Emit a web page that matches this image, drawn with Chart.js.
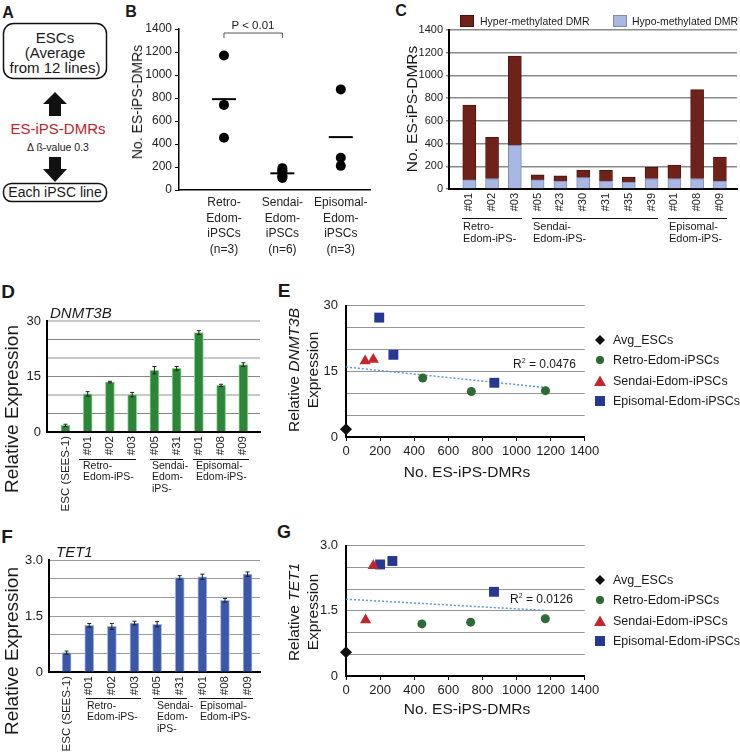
<!DOCTYPE html>
<html><head><meta charset="utf-8">
<script src="https://cdn.jsdelivr.net/npm/chart.js@4.4.1/dist/chart.umd.min.js"></script>
<style>
body{margin:0;width:740px;height:754px;position:relative;background:#fff;overflow:hidden;font-family:'Liberation Sans',Arial,Helvetica,sans-serif;color:#1a1a1a}
.cv{position:absolute}
.t{position:absolute;white-space:nowrap;line-height:1}
.c{position:absolute;white-space:nowrap;line-height:1;transform:translate(-50%,-50%)}
.r{position:absolute;white-space:nowrap;text-align:center;transform:translate(-50%,-50%) rotate(-90deg)}
.L{position:absolute;font-weight:bold;line-height:1;transform:translate(-50%,-50%)}
.g{position:absolute;height:0;border-top:1.5px solid #111}
.gl{position:absolute;white-space:nowrap}
.lg{position:absolute;white-space:nowrap;font-size:12.5px;line-height:1;transform:translateY(-50%)}
.lm{position:absolute;transform:translate(-50%,-50%)}
</style></head>
<body>
<!-- Panel A -->
<svg class="cv" style="left:0;top:0" width="120" height="210">
  <rect x="3.5" y="23.5" width="103" height="55" rx="10" ry="10" fill="none" stroke="#111" stroke-width="1.5"/>
  <polygon points="55,92 67,104 61,104 61,116 49,116 49,104 43,104" fill="#111"/>
  <polygon points="49,157 61,157 61,169 67,169 55,182 43,169 49,169" fill="#111"/>
  <rect x="3.5" y="183.5" width="103" height="18" rx="8" ry="8" fill="none" stroke="#111" stroke-width="1.5"/>
</svg>
<div class="L" style="left:8px;top:13px;font-size:16px">A</div>
<div class="c" style="left:55px;top:37px;font-size:15px">ESCs</div>
<div class="c" style="left:55px;top:52px;font-size:15px">(Average</div>
<div class="c" style="left:55px;top:67px;font-size:15px">from 12 lines)</div>
<div class="c" style="left:58px;top:128px;font-size:15px;color:#c1222b">ES-iPS-DMRs</div>
<div class="c" style="left:58px;top:147px;font-size:10.5px">Δ ß-value 0.3</div>
<div class="c" style="left:55px;top:192px;font-size:14px">Each iPSC line</div>

<!-- Panel letters -->
<div class="L" style="left:131px;top:12px;font-size:16px">B</div>
<div class="L" style="left:401px;top:11px;font-size:16px">C</div>
<div class="L" style="left:8px;top:291px;font-size:19px">D</div>
<div class="L" style="left:284px;top:290px;font-size:19px">E</div>
<div class="L" style="left:7px;top:536px;font-size:19px">F</div>
<div class="L" style="left:284px;top:532px;font-size:18px">G</div>

<!-- Canvases -->
<div class="cv" style="left:120px;top:0"><canvas id="cB" width="260" height="270"></canvas></div>
<div class="cv" style="left:380px;top:0"><canvas id="cC" width="360" height="270"></canvas></div>
<div class="cv" style="left:0;top:300px"><canvas id="cD" width="270" height="230"></canvas></div>
<div class="cv" style="left:280px;top:290px"><canvas id="cE" width="330" height="200"></canvas></div>
<div class="cv" style="left:0;top:540px"><canvas id="cF" width="270" height="214"></canvas></div>
<div class="cv" style="left:280px;top:530px"><canvas id="cG" width="330" height="200"></canvas></div>

<!-- Panel B texts -->
<div class="r" style="left:137px;top:102px;font-size:14px">No. ES-iPS-DMRs</div>
<div class="c" style="left:253px;top:26px;font-size:11.5px">P &lt; 0.01</div>

<!-- Panel C texts -->
<div class="r" style="left:412px;top:109px;font-size:15.5px">No. ES-iPS-DMRs</div>
<div class="t" style="left:460px;top:15px;width:12px;height:10px;background:#6e2219;border:1px solid #4a120c"></div>
<div class="t" style="left:480px;top:16px;font-size:10.5px">Hyper-methylated DMR</div>
<div class="t" style="left:613px;top:15px;width:12px;height:10px;background:#a9b8e3;border:1px solid #7d8db8"></div>
<div class="t" style="left:632px;top:16px;font-size:10.5px">Hypo-methylated DMR</div>
<div class="g" style="left:462px;top:218px;width:60px"></div>
<div class="g" style="left:532px;top:218px;width:126px"></div>
<div class="g" style="left:668px;top:218px;width:59px"></div>
<div class="gl" style="left:463px;top:221px;font-size:11px;line-height:11.7px">Retro-<br>Edom-iPS-</div>
<div class="gl" style="left:533px;top:221px;font-size:11px;line-height:11.7px">Sendai-<br>Edom-iPS-</div>
<div class="gl" style="left:669px;top:221px;font-size:11px;line-height:11.7px">Episomal-<br>Edom-iPS-</div>

<!-- Panel D texts -->
<div class="t" style="left:50px;top:305px;font-size:15px;font-style:italic">DNMT3B</div>
<div class="r" style="left:12px;top:409px;font-size:19px">Relative Expression</div>
<div class="g" style="left:79px;top:459px;width:57px"></div>
<div class="g" style="left:150px;top:459px;width:33px"></div>
<div class="g" style="left:193px;top:459px;width:56px"></div>
<div class="gl" style="left:83px;top:460px;font-size:10.5px;line-height:11.3px">Retro-<br>Edom-iPS-</div>
<div class="gl" style="left:152px;top:460px;font-size:10.5px;line-height:11.3px">Sendai-<br>Edom-<br>iPS-</div>
<div class="gl" style="left:196px;top:460px;font-size:10.5px;line-height:11.3px">Episomal-<br>Edom-iPS-</div>

<!-- Panel F texts -->
<div class="t" style="left:56px;top:544px;font-size:15px;font-style:italic">TET1</div>
<div class="r" style="left:12px;top:651px;font-size:19px">Relative Expression</div>
<div class="g" style="left:86px;top:698px;width:55px"></div>
<div class="g" style="left:153px;top:698px;width:34px"></div>
<div class="g" style="left:199px;top:698px;width:54px"></div>
<div class="gl" style="left:87px;top:700px;font-size:10.5px;line-height:11.3px">Retro-<br>Edom-iPS-</div>
<div class="gl" style="left:157px;top:700px;font-size:10.5px;line-height:11.3px">Sendai-<br>Edom-<br>iPS-</div>
<div class="gl" style="left:200px;top:700px;font-size:10.5px;line-height:11.3px">Episomal-<br>Edom-iPS-</div>

<!-- Panel E texts -->
<div class="r" style="left:303px;top:370px;font-size:15.5px;line-height:19px">Relative <i>DNMT3B</i><br>Expression</div>
<div class="c" style="left:467px;top:472px;font-size:15.5px">No. ES-iPS-DMRs</div>
<div class="t" style="left:513px;top:357px;font-size:12px">R<sup style="font-size:7px;vertical-align:5px">2</sup> = 0.0476</div>

<!-- Panel G texts -->
<div class="r" style="left:303px;top:612px;font-size:15.5px;line-height:19px">Relative <i>TET1</i><br>Expression</div>
<div class="c" style="left:467px;top:709px;font-size:15.5px">No. ES-iPS-DMRs</div>
<div class="t" style="left:510px;top:592px;font-size:12px">R<sup style="font-size:7px;vertical-align:5px">2</sup> = 0.0126</div>

<div id="legE"></div>
<div id="legG"></div>

<script>
// ---------- DATA ----------
// Panel B: number of ES-iPS-DMRs per line, by reprogramming method
const bGroups = [['Retro-','Edom-','iPSCs','(n=3)'],['Sendai-','Edom-','iPSCs','(n=6)'],['Episomal-','Edom-','iPSCs','(n=3)']];
const retroB = [1170, 740, 455];
const sendaiB = [190, 165, 165, 125, 115, 105];
const episomalB = [875, 280, 210];
const groupMeans = [790, 145, 460];
const bracketLevel = 1365;

// Panel C: stacked hyper/hypo DMRs
const cLines = ['#01','#02','#03','#05','#23','#30','#31','#35','#39','#01','#08','#09'];
const hypoDMR  = [80, 90, 385, 80, 70, 100, 70, 60, 90, 90, 90, 70];
const hyperDMR = [660, 365, 785, 45, 45, 65, 95, 45, 100, 120, 785, 210];

// Panels D/F: relative expression
const exprLines = ['ESC (SEES-1)','#01','#02','#03','#05','#31','#01','#08','#09'];
const dnmt3b    = [1.8, 10.3, 13.5, 10.1, 16.7, 17.2, 26.9, 12.6, 18.2];
const dnmt3bErr = [0.3, 0.6, 0.2, 0.6, 1.0, 0.5, 0.5, 0.3, 0.5];
const tet1      = [0.52, 1.25, 1.22, 1.31, 1.28, 2.53, 2.55, 1.92, 2.62];
const tet1Err   = [0.04, 0.05, 0.08, 0.05, 0.07, 0.05, 0.07, 0.05, 0.06];

// Panel E: DNMT3B vs DMRs
const eAvgX = [0],              eAvgY = [1.8];
const eRetroX = [450, 735, 1170], eRetroY = [13.5, 10.4, 10.6];
const eSendaiX = [112, 160],    eSendaiY = [17.4, 17.7];
const eEpiX = [195, 278, 870],  eEpiY = [27.3, 18.8, 12.4];
const eTrendX = [0, 1170],      eTrendY = [16.0, 11.3];

// Panel G: TET1 vs DMRs
const gAvgX = [0],              gAvgY = [0.55];
const gRetroX = [445, 731, 1169], gRetroY = [1.20, 1.24, 1.32];
const gSendaiX = [115, 160],    gSendaiY = [1.29, 2.54];
const gEpiX = [200, 272, 868],  gEpiY = [2.57, 2.65, 1.94];
const gTrendX = [0, 1170],      gTrendY = [1.77, 1.51];

const legendNames = ['Avg_ESCs','Retro-Edom-iPSCs','Sendai-Edom-iPSCs','Episomal-Edom-iPSCs'];

// ---------- STYLE ----------
const FF = "'Liberation Sans', Arial, Helvetica, sans-serif";
Chart.defaults.font.family = FF;
Chart.defaults.color = '#1a1a1a';
Chart.defaults.animation = false;
Chart.defaults.plugins.legend.display = false;
Chart.defaults.plugins.tooltip.enabled = false;

const pts = (xs, ys) => xs.map((x, i) => ({x, y: ys[i]}));
const fixedTicks = (arr, base) => (a) => { a.ticks = arr.map((_, i) => ({value: i + base})); };
const plain = v => String(v);

// ---------- PLUGINS ----------
const bracket = {
  id: 'bracket',
  afterDatasetsDraw(chart) {
    const {ctx, scales: {x, y}} = chart;
    const x1 = x.getPixelForValue(1), x2 = x.getPixelForValue(2), yt = y.getPixelForValue(bracketLevel);
    ctx.save(); ctx.strokeStyle = '#555'; ctx.lineWidth = 1;
    ctx.beginPath(); ctx.moveTo(x1, yt + 5); ctx.lineTo(x1, yt); ctx.lineTo(x2, yt); ctx.lineTo(x2, yt + 5); ctx.stroke();
    ctx.restore();
  }
};
const errorBars = {
  id: 'errorBars',
  afterDatasetsDraw(chart, args, opts) {
    const {ctx} = chart, ys = chart.scales.y;
    const ds = chart.data.datasets[0], meta = chart.getDatasetMeta(0);
    ctx.save(); ctx.strokeStyle = '#222'; ctx.lineWidth = 1;
    meta.data.forEach((bar, i) => {
      const v = ds.data[i].y, e = opts.errors[i];
      const y1 = ys.getPixelForValue(v + e), y2 = ys.getPixelForValue(v - e), x = bar.x;
      ctx.beginPath();
      ctx.moveTo(x, y1); ctx.lineTo(x, y2);
      ctx.moveTo(x - 2, y1); ctx.lineTo(x + 2, y1);
      ctx.moveTo(x - 2, y2); ctx.lineTo(x + 2, y2);
      ctx.stroke();
    });
    ctx.restore();
  }
};

// ---------- PANEL B ----------
const dot = {pointStyle: 'circle', pointRadius: 5, pointBackgroundColor: '#000', pointBorderColor: '#000', pointBorderWidth: 0, clip: false};
new Chart(document.getElementById('cB'), {
  type: 'scatter',
  data: {datasets: [
    {data: retroB.map(v => ({x: 1, y: v})), ...dot},
    {data: sendaiB.map(v => ({x: 2, y: v})), ...dot},
    {data: episomalB.map(v => ({x: 3, y: v})), ...dot},
    {data: groupMeans.map((v, i) => ({x: i + 1, y: v})), pointStyle: 'line', pointRadius: 12, pointBorderWidth: 2, pointBorderColor: '#000', clip: false}
  ]},
  options: {
    responsive: false,
    layout: {padding: {left: 0, top: 29, right: 10, bottom: 0}, autoPadding: false},
    scales: {
      x: {type: 'linear', min: 0.23, max: 3.5, afterBuildTicks: fixedTicks(bGroups, 1),
          afterFit: s => { s.height = 80; },
          ticks: {callback: v => bGroups[v - 1], font: {size: 12, lineHeight: 1.3}, padding: 5, maxRotation: 0, autoSkip: false, color: '#222'},
          grid: {display: false, drawTicks: false}, border: {color: '#000', width: 1.5}},
      y: {min: 0, max: 1400, afterFit: s => { s.width = 59; },
          ticks: {stepSize: 200, font: {size: 12}, padding: 3, color: '#222', callback: plain, autoSkip: false},
          grid: {drawOnChartArea: false, drawTicks: true, tickLength: 4, color: '#000'}, border: {color: '#000', width: 1.5}}
    }
  },
  plugins: [bracket]
});

// ---------- PANEL C ----------
new Chart(document.getElementById('cC'), {
  type: 'bar',
  data: {datasets: [
    {label: 'Hypo-methylated DMR', data: hypoDMR.map((v, i) => ({x: i, y: v})), backgroundColor: '#a9b8e3', borderColor: '#7d8db8', borderWidth: 1, barThickness: 13, stack: 's'},
    {label: 'Hyper-methylated DMR', data: hyperDMR.map((v, i) => ({x: i, y: v})), backgroundColor: '#6e2219', borderColor: '#4f150e', borderWidth: 1, barThickness: 13, stack: 's'}
  ]},
  options: {
    responsive: false,
    layout: {padding: {left: 0, top: 30, right: 3, bottom: 0}, autoPadding: false},
    scales: {
      x: {type: 'linear', stacked: true, offset: false, min: -0.89, max: 11.75, afterBuildTicks: fixedTicks(cLines, 0),
          afterFit: s => { s.height = 81; },
          ticks: {callback: v => cLines[v], font: {size: 11}, padding: 4, minRotation: 90, maxRotation: 90, autoSkip: false, color: '#222'},
          grid: {display: false, drawTicks: false, offset: false}, border: {color: '#000', width: 2}},
      y: {stacked: true, min: 0, max: 1400, afterFit: s => { s.width = 69; },
          ticks: {stepSize: 200, font: {size: 11}, padding: 3, color: '#222', callback: plain, autoSkip: false},
          grid: {color: '#8a8a8a', lineWidth: 1.5, drawTicks: true, tickLength: 3}, border: {color: '#000', width: 2}}
    }
  }
});

// ---------- PANELS D / F ----------
function exprChart(id, vals, errs, fill, edge, yMax, yStep, yLabel, xMin, xMax, yW, xH, padTop, gridColor, gridWidth) {
  new Chart(document.getElementById(id), {
    type: 'bar',
    data: {datasets: [{data: vals.map((v, i) => ({x: i, y: v})), backgroundColor: fill, borderColor: edge, borderWidth: 1, barThickness: 9}]},
    options: {
      responsive: false,
      layout: {padding: {left: 0, top: padTop, right: 10, bottom: 0}, autoPadding: false},
      plugins: {errorBars: {errors: errs}},
      scales: {
        x: {type: 'linear', offset: false, min: xMin, max: xMax, afterBuildTicks: fixedTicks(exprLines, 0),
            afterFit: s => { s.height = xH; },
            ticks: {callback: v => exprLines[v], font: {size: 11.5}, padding: 4, minRotation: 90, maxRotation: 90, autoSkip: false, color: '#222'},
            grid: {display: false, drawTicks: false, offset: false}, border: {color: '#000', width: 2}},
        y: {min: 0, max: yMax, afterFit: s => { s.width = yW; },
            ticks: {stepSize: yStep, font: {size: 13}, padding: 6, color: '#222', callback: yLabel, autoSkip: false},
            grid: {color: gridColor, lineWidth: gridWidth, drawTicks: false}, border: {color: '#000', width: 2}}
      }
    },
    plugins: [errorBars]
  });
}
exprChart('cD', dnmt3b, dnmt3bErr, '#2b8638', '#8fd18f', 30, 5,
  v => (v % 15 === 0 ? String(v) : ''), -0.83, 8.75, 47, 98, 21,
  c => (c.tick && c.tick.value % 10 === 0 ? '#c9c9c9' : '#858585'),
  c => (c.tick && c.tick.value % 10 === 0 ? 2 : 1));
exprChart('cF', tet1, tet1Err, '#3b57a8', '#a3b5e6', 3, 0.5,
  v => (Math.abs(v) < 1e-9 ? '0' : Math.abs(v - 1.5) < 1e-9 ? '1.5' : Math.abs(v - 3) < 1e-9 ? '3.0' : ''),
  -0.78, 8.55, 49, 82, 20, '#9a9a9a', 1);

// ---------- PANELS E / G ----------
const mk = {
  avg:    {pointStyle: 'rectRot',  pointRadius: 6,   pointBackgroundColor: '#111',    pointBorderColor: '#111',    pointBorderWidth: 0, clip: false},
  retro:  {pointStyle: 'circle',   pointRadius: 4.5, pointBackgroundColor: '#2d6a34', pointBorderColor: '#2d6a34', pointBorderWidth: 0, clip: false},
  sendai: {pointStyle: 'triangle', pointRadius: 6.5, pointBackgroundColor: '#c1272d', pointBorderColor: '#c1272d', pointBorderWidth: 0, clip: false},
  epi:    {pointStyle: 'rect',     pointRadius: 7,   pointBackgroundColor: '#26388f', pointBorderColor: '#26388f', pointBorderWidth: 0, clip: false}
};
function corrChart(id, avg, retro, sendai, epi, trend, yMax, yStep, yLabel, padTop, xH) {
  new Chart(document.getElementById(id), {
    type: 'scatter',
    data: {datasets: [
      {label: legendNames[0], data: avg, ...mk.avg},
      {label: legendNames[1], data: retro, ...mk.retro},
      {label: legendNames[2], data: sendai, ...mk.sendai},
      {label: legendNames[3], data: epi, ...mk.epi},
      {label: 'trend', data: trend, showLine: true, borderColor: '#5b9bd5', borderWidth: 1.5, borderDash: [2, 2], pointRadius: 0}
    ]},
    options: {
      responsive: false,
      layout: {padding: {left: 0, top: padTop, right: 25.3, bottom: 0}, autoPadding: false},
      scales: {
        x: {min: 0, max: 1400, afterFit: s => { s.height = xH; },
            ticks: {stepSize: 200, font: {size: 13}, padding: 3, maxRotation: 0, autoSkip: false, color: '#222', callback: plain},
            grid: {drawOnChartArea: false, drawTicks: true, tickLength: 4, color: '#000'}, border: {color: '#000', width: 2}},
        y: {min: 0, max: yMax, afterFit: s => { s.width = 66; },
            ticks: {stepSize: yStep, font: {size: 13}, padding: 8, color: '#222', callback: yLabel, autoSkip: false},
            grid: {color: '#959595', lineWidth: 1, drawTicks: false}, border: {color: '#000', width: 2}}
      }
    }
  });
}
corrChart('cE', pts(eAvgX, eAvgY), pts(eRetroX, eRetroY), pts(eSendaiX, eSendaiY), pts(eEpiX, eEpiY), pts(eTrendX, eTrendY),
  30, 5, v => (v % 15 === 0 ? String(v) : ''), 11, 53);
corrChart('cG', pts(gAvgX, gAvgY), pts(gRetroX, gRetroY), pts(gSendaiX, gSendaiY), pts(gEpiX, gEpiY), pts(gTrendX, gTrendY),
  3, 0.5, v => (Math.abs(v) < 1e-9 ? '0' : Math.abs(v - 1.5) < 1e-9 ? '1.5' : Math.abs(v - 3) < 1e-9 ? '3.0' : ''), 10, 54);

// ---------- LEGENDS (E, G) ----------
const legendIcons = [
  '<svg width="14" height="14"><polygon points="7,2 12,7 7,12 2,7" fill="#111"/></svg>',
  '<svg width="14" height="14"><circle cx="7" cy="7" r="4" fill="#2d6a34"/></svg>',
  '<svg width="14" height="14"><polygon points="7,1.5 13,12 1,12" fill="#c1272d"/></svg>',
  '<svg width="14" height="14"><rect x="2" y="2" width="10" height="10" fill="#26388f"/></svg>'
];
function buildLegend(el, y0) {
  let h = '';
  legendNames.forEach((n, i) => {
    const y = y0 + i * 20.3;
    h += '<div class="lm" style="left:600px;top:' + y + 'px;width:14px;height:14px">' + legendIcons[i] + '</div>';
    h += '<div class="lg" style="left:613px;top:' + y + 'px">' + n + '</div>';
  });
  el.innerHTML = h;
}
buildLegend(document.getElementById('legE'), 340);
buildLegend(document.getElementById('legG'), 580);
</script>
</body></html>
